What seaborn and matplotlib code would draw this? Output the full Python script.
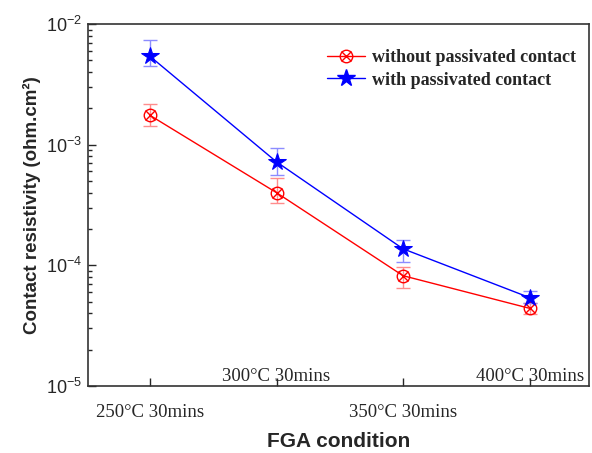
import numpy as np
import matplotlib
matplotlib.use('Agg')
import matplotlib.pyplot as plt
import seaborn as sns
from matplotlib.lines import Line2D
from matplotlib.legend_handler import HandlerTuple

# FGA conditions and contact resistivity (ohm.cm^2)
conditions = ['250°C 30mins', '300°C 30mins', '350°C 30mins', '400°C 30mins']

without_pc = [1.75e-3, 4.0e-4, 8.2e-5, 4.4e-5]
without_lo = [1.43e-3, 3.3e-4, 6.5e-5, 3.95e-5]
without_hi = [2.17e-3, 5.3e-4, 9.7e-5, 4.9e-5]

with_pc = [5.4e-3, 7.2e-4, 1.37e-4, 5.4e-5]
with_lo = [4.5e-3, 5.6e-4, 1.07e-4, 4.9e-5]
with_hi = [7.4e-3, 9.4e-4, 1.62e-4, 6.1e-5]

sns.set_style('ticks')
plt.rcParams['font.family'] = ['Liberation Sans', 'DejaVu Sans']
plt.rcParams['mathtext.fontset'] = 'custom'
plt.rcParams['mathtext.rm'] = 'Liberation Sans'

fig = plt.figure(figsize=(5.92, 4.53), dpi=100)
ax = fig.add_axes([0.1486, 0.148, 0.8464, 0.799])

pos = np.arange(len(conditions))

series = [
    (without_pc, without_lo, without_hi, 'red', (1, 0.55, 0.55)),
    (with_pc, with_lo, with_hi, 'blue', (0.55, 0.55, 1)),
]
for vals, lo, hi, col, ecol in series:
    vals = np.array(vals)
    err = [vals - np.array(lo), np.array(hi) - vals]
    ax.errorbar(pos, vals, yerr=err, fmt='none', ecolor=ecol,
                elinewidth=1, capsize=5, capthick=1, zorder=2)
    sns.lineplot(x=pos, y=vals, color=col, lw=1, ax=ax, zorder=3)

# red: circle with a cross inside
sns.lineplot(x=pos, y=without_pc, ax=ax, linestyle='none', marker='o',
             markersize=9, markerfacecolor='none', markeredgecolor='red',
             markeredgewidth=1, zorder=4)
sns.lineplot(x=pos, y=without_pc, ax=ax, linestyle='none', marker='x',
             markersize=7, markeredgecolor='red', markeredgewidth=1, zorder=4)
# blue: filled star
sns.lineplot(x=pos, y=with_pc, ax=ax, linestyle='none', marker='*',
             markersize=13, color='blue', markeredgecolor='blue', zorder=4)

ax.set_yscale('log')
ax.set_ylim(1e-5, 1e-2)
ax.set_xlim(-0.49, 3.47)

ax.set_xticks(pos[::2], [conditions[i] for i in pos[::2]])
ax.set_xticks(pos[1::2], [conditions[i] for i in pos[1::2]], minor=True)
ax.tick_params(axis='x', which='major', direction='in', length=6, width=1,
               pad=13, labelsize=13.5, labelfontfamily='Liberation Serif')
ax.tick_params(axis='x', which='minor', direction='in', length=6, width=1,
               pad=-13, labelsize=13.5, labelfontfamily='Liberation Serif')
ax.tick_params(axis='y', which='major', direction='in', length=6, width=1,
               labelsize=13, pad=4)
ax.tick_params(axis='y', which='minor', direction='in', length=3, width=1)

for s in ax.spines.values():
    s.set_linewidth(1.2)
    s.set_color('#333333')

ax.set_ylabel('Contact resistivity (ohm.cm²)', fontsize=13.5,
              fontweight='bold', labelpad=4)
ax.set_xlabel('FGA condition', fontsize=15, fontweight='bold', labelpad=8)

h_red = (Line2D([], [], color='red', lw=1, marker='o', markersize=9,
                markerfacecolor='none', markeredgecolor='red'),
         Line2D([], [], linestyle='none', marker='x', markersize=7,
                markeredgecolor='red'))
h_blue = Line2D([], [], color='blue', lw=1, marker='*', markersize=13,
                markeredgecolor='blue')
ax.legend([h_red, h_blue], ['without passivated contact', 'with passivated contact'],
          handler_map={tuple: HandlerTuple(ndivide=1)},
          loc='upper left', bbox_to_anchor=(0.445, 0.975), frameon=False,
          handlelength=2.1, handletextpad=0.4, labelspacing=0.3,
          prop={'family': 'Liberation Serif', 'weight': 'bold', 'size': 13})

fig.savefig('out.png', dpi=100)
